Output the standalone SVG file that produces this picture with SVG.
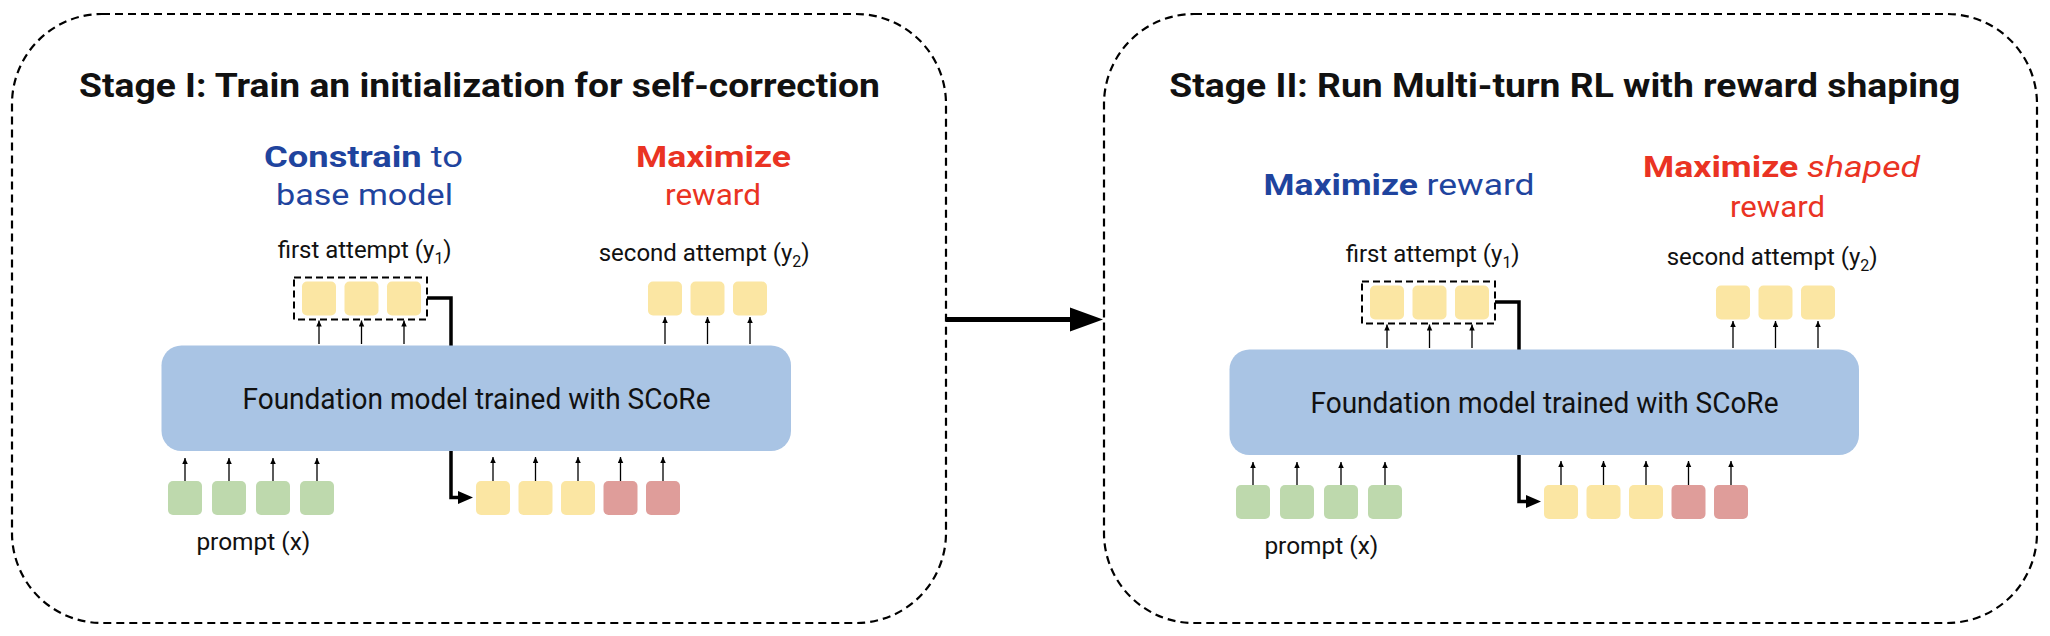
<svg xmlns="http://www.w3.org/2000/svg" width="2050" height="636" viewBox="0 0 2050 636">
<style>
text{font-family:Roboto,"Liberation Sans",sans-serif}
.panel{fill:none;stroke:#000;stroke-width:2.2;stroke-dasharray:8 5}
.title{font-size:34px;font-weight:700;fill:#111}
.head{font-size:30px}
.b{font-weight:700}
.blue{fill:#1f449e}
.red{fill:#ea3323}
.lbl{font-size:24px;fill:#111}
.sub{font-size:16px}
.model{fill:#a9c4e4}
.mtext{font-size:29px;fill:#111}
.y{fill:#fbe6a3}
.g{fill:#bed9ad}
.r{fill:#df9d9a}
.grp{fill:none;stroke:#000;stroke-width:2;stroke-dasharray:7 4}
.tiny{stroke:#000;stroke-width:1.3;fill:none;marker-end:url(#mh)}
.conn{stroke:#000;stroke-width:3.5;fill:none}
</style>
<defs>
<marker id="mh" markerUnits="userSpaceOnUse" markerWidth="7" markerHeight="6" refX="6" refY="2.75" orient="auto"><path d="M0,0L6,2.75L0,5.5z" fill="#000"/></marker>
<marker id="bh" markerUnits="userSpaceOnUse" markerWidth="16" markerHeight="14" refX="9" refY="6.5" orient="auto"><path d="M0,0L15,6.5L0,13z" fill="#000"/></marker>
<g id="stageBody">
<g id="attempt1">
<rect class="y" x="302" y="281.5" width="34" height="34" rx="5"/>
<rect class="y" x="344.5" y="281.5" width="34" height="34" rx="5"/>
<rect class="y" x="387" y="281.5" width="34" height="34" rx="5"/>
<rect class="grp" x="294" y="277.5" width="133" height="42"/>
<text class="lbl" x="277.7" y="258" textLength="174" lengthAdjust="spacingAndGlyphs">first attempt (y<tspan class="sub" dy="6">1</tspan><tspan dy="-6">)</tspan></text>
</g>
<g id="attempt2">
<rect class="y" x="648" y="281.5" width="34" height="34" rx="5"/>
<rect class="y" x="690.5" y="281.5" width="34" height="34" rx="5"/>
<rect class="y" x="733" y="281.5" width="34" height="34" rx="5"/>
<text class="lbl" x="598.7" y="261" textLength="211" lengthAdjust="spacingAndGlyphs">second attempt (y<tspan class="sub" dy="6">2</tspan><tspan dy="-6">)</tspan></text>
</g>
<g id="links">
<path class="conn" d="M427,298H451V346"/>
<path class="conn" d="M451,450V497.5H467" marker-end="url(#bh)"/>
<line class="tiny" x1="319" y1="344" x2="319" y2="320.5"/>
<line class="tiny" x1="361.5" y1="344" x2="361.5" y2="320.5"/>
<line class="tiny" x1="404" y1="344" x2="404" y2="320.5"/>
<line class="tiny" x1="665" y1="344" x2="665" y2="317"/>
<line class="tiny" x1="707.5" y1="344" x2="707.5" y2="317"/>
<line class="tiny" x1="750" y1="344" x2="750" y2="317"/>
<line class="tiny" x1="185" y1="481" x2="185" y2="458"/>
<line class="tiny" x1="229" y1="481" x2="229" y2="458"/>
<line class="tiny" x1="273" y1="481" x2="273" y2="458"/>
<line class="tiny" x1="317" y1="481" x2="317" y2="458"/>
<line class="tiny" x1="493" y1="481" x2="493" y2="457"/>
<line class="tiny" x1="535.5" y1="481" x2="535.5" y2="457"/>
<line class="tiny" x1="578" y1="481" x2="578" y2="457"/>
<line class="tiny" x1="620.5" y1="481" x2="620.5" y2="457"/>
<line class="tiny" x1="663" y1="481" x2="663" y2="457"/>
</g>
<g id="model">
<rect class="model" x="161.5" y="345.5" width="629.5" height="105.5" rx="20"/>
<text class="mtext" x="242.5" y="408.5" textLength="468" lengthAdjust="spacingAndGlyphs">Foundation model trained with SCoRe</text>
</g>
<g id="prompt">
<rect class="g" x="168" y="481" width="34" height="34" rx="5"/>
<rect class="g" x="212" y="481" width="34" height="34" rx="5"/>
<rect class="g" x="256" y="481" width="34" height="34" rx="5"/>
<rect class="g" x="300" y="481" width="34" height="34" rx="5"/>
<text class="lbl" x="196.4" y="549.5" textLength="114" lengthAdjust="spacingAndGlyphs">prompt (x)</text>
</g>
<g id="input2">
<rect class="y" x="476" y="481" width="34" height="34" rx="5"/>
<rect class="y" x="518.5" y="481" width="34" height="34" rx="5"/>
<rect class="y" x="561" y="481" width="34" height="34" rx="5"/>
<rect class="r" x="603.5" y="481" width="34" height="34" rx="5"/>
<rect class="r" x="646" y="481" width="34" height="34" rx="5"/>
</g>
</g>
</defs>
<g id="stage1">
<rect class="panel" x="12" y="14" width="934" height="609" rx="90"/>
<text class="title" x="79" y="96.5" textLength="801" lengthAdjust="spacingAndGlyphs">Stage I: Train an initialization for self-correction</text>
<text class="head blue" x="264" y="166.7" textLength="199" lengthAdjust="spacingAndGlyphs"><tspan class="b">Constrain</tspan> to</text>
<text class="head blue" x="276" y="205" textLength="177" lengthAdjust="spacingAndGlyphs">base model</text>
<text class="head red b" x="636" y="166.7" textLength="155" lengthAdjust="spacingAndGlyphs">Maximize</text>
<text class="head red" x="665" y="205" textLength="96" lengthAdjust="spacingAndGlyphs">reward</text>
<use href="#stageBody"/>
</g>
<g id="stage2">
<rect class="panel" x="1104" y="14" width="933" height="609" rx="90"/>
<g transform="translate(1068,4)">
<text class="title" x="101.3" y="92.5" textLength="791" lengthAdjust="spacingAndGlyphs">Stage II: Run Multi-turn RL with reward shaping</text>
<text class="head blue" x="195.6" y="190.7" textLength="271" lengthAdjust="spacingAndGlyphs"><tspan class="b">Maximize</tspan> reward</text>
<text class="head red" x="575" y="172.7" textLength="277" lengthAdjust="spacingAndGlyphs"><tspan class="b">Maximize</tspan> <tspan font-style="italic">shaped</tspan></text>
<text class="head red" x="662" y="212.7" textLength="95" lengthAdjust="spacingAndGlyphs">reward</text>
<use href="#stageBody"/>
</g>
</g>
<g id="connectors">
<line x1="946" y1="319.5" x2="1071" y2="319.5" stroke="#000" stroke-width="5"/>
<path d="M1070,307.5L1103,319.5L1070,331.5z" fill="#000"/>
</g>
</svg>
